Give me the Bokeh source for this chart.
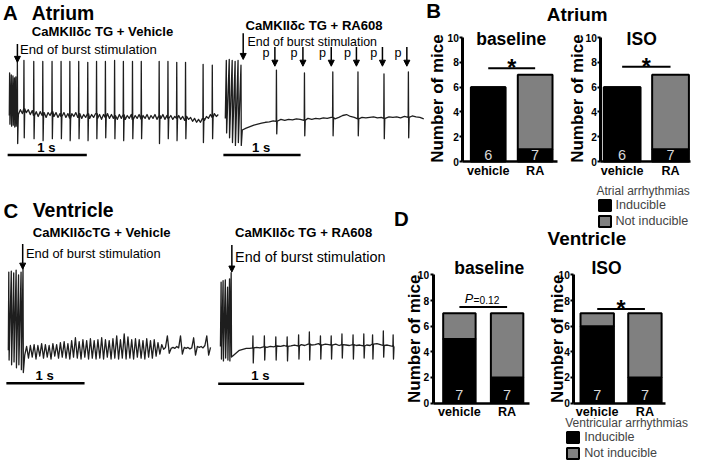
import math
from bokeh.plotting import figure
from bokeh.models import (Range1d, LinearAxis, FixedTicker, Label, Arrow, NormalHead,
                          Legend, LegendItem)
from bokeh.embed import file_html
from bokeh.resources import INLINE

FONT = "Liberation Sans"
REF_W, REF_H = 709, 476
FIG_W, FIG_H = 693, 460
FS = 0.97

# ---------------- bar chart data ----------------
groups = ["vehicle", "RA"]
atrial_baseline_inducible = [6, 1]
atrial_baseline_not = [0, 6]
atrial_iso_inducible = [6, 1]
atrial_iso_not = [0, 6]
vent_baseline_inducible = [5, 2]
vent_baseline_not = [2, 5]
vent_iso_inducible = [6, 2]
vent_iso_not = [1, 5]
y_ticks = [0, 2, 4, 6, 8, 10]

# ---------------- ECG traces (time in s, amplitude in mV) ----------------
# A: atrium, vehicle
av_burst_t = [0.004, 0.025, 0.046, 0.065, 0.083]
av_burst_up = [0.88, 0.84, 0.82, 0.78, 0.80]
av_burst_dn = [-0.18, -0.22, -0.20, -0.24, -0.22]
av_spike_t = [0.102, 0.185, 0.309, 0.423, 0.540, 0.654, 0.765, 0.877, 0.991, 1.102, 1.214,
              1.330, 1.441, 1.556, 1.667, 1.893, 2.004, 2.115, 2.226, 2.448, 2.564]
av_spike_up = [1.12, 1.14, 1.12, 1.12, 1.12, 1.12, 1.12, 1.12, 1.10, 1.12, 1.12,
               1.14, 1.12, 1.12, 1.12, 1.12, 1.12, 1.10, 1.10, 1.06, 1.04]
av_spike_dn = [-0.58, -0.46, -0.48, -0.52, -0.48, -0.48, -0.52, -0.48, -0.52, -0.48, -0.46,
               -0.48, -0.52, -0.48, -0.48, -0.58, -0.48, -0.52, -0.48, -0.56, -0.48]
av_base_t0, av_base_dt = 0.09, 0.025
av_base_v = [-0.12, 0.02, 0.12, 0.04, 0.14, 0.06, 0.12, 0.02, 0.10, 0.00,
             0.08, -0.02, 0.08, 0.00, 0.06, -0.04, 0.06, 0.00, 0.08, -0.02,
             0.06, -0.04, 0.04, -0.02, 0.06, -0.04, 0.04, -0.06, 0.04, -0.02,
             0.06, -0.04, 0.04, -0.06, 0.02, -0.04, 0.04, -0.06, 0.02, -0.04,
             0.04, -0.06, 0.02, -0.08, 0.02, -0.04, 0.04, -0.06, 0.02, -0.06,
             0.00, -0.08, 0.02, -0.06, 0.02, -0.08, 0.00, -0.06, 0.02, -0.08,
             0.00, -0.06, 0.02, -0.08, 0.00, -0.06, 0.02, -0.08, 0.00, -0.06,
             0.02, -0.08, 0.00, -0.06, 0.02, -0.08, 0.00, -0.06, 0.00, -0.08,
             -0.02, -0.06, 0.00, -0.08, -0.02, -0.10, -0.02, -0.08, -0.04, -0.12,
             -0.06, -0.14, -0.08, -0.14, -0.06, -0.10, -0.02, -0.06, 0.02, -0.04,
             0.04, -0.02, 0.02]

# A: atrium, RA608
ar_burst_t = [0.013, 0.051, 0.089, 0.127, 0.165, 0.203]
ar_burst_up = [1.20, 1.22, 1.20, 1.18, 1.20, 1.10]
ar_burst_dn = [-0.30, -0.40, -0.50, -0.56, -0.50, -0.56]
ar_spike_t = [0.662, 1.025, 1.392, 1.718, 2.055, 2.371]
ar_spike_up = [1.00, 0.94, 0.96, 0.96, 0.92, 0.96]
ar_spike_dn = [-0.32, -0.36, -0.36, -0.36, -0.42, -0.40]
ar_base_t0, ar_base_dt = 0.22, 0.05
ar_base_v = [-0.24, -0.20, -0.17, -0.14, -0.12, -0.10, -0.08, -0.07, -0.05, -0.06,
             -0.02, -0.04, -0.02, -0.03, -0.01, -0.02, -0.04, 0.00, -0.02, 0.00,
             -0.01, 0.01, 0.00, 0.02, -0.01, 0.02, 0.06, 0.08, 0.04, 0.02,
             -0.01, 0.02, 0.01, 0.02, 0.03, 0.01, 0.02, 0.00, 0.03, 0.02,
             0.03, 0.01, 0.04, 0.02, 0.05, 0.03, 0.02, -0.01]

# C: ventricle, vehicle
cv_burst_t = [0.006, 0.038, 0.069, 0.100, 0.131, 0.163, 0.188]
cv_burst_up = [1.62, 1.64, 1.60, 1.66, 1.56, 1.62, 1.70]
cv_burst_dn = [-0.20, -0.30, -0.24, -0.36, -0.30, -0.40, -0.46]
cv_base_t0, cv_base_dt = 0.21, 0.024
cv_base_v = [-0.10, 0.08, -0.16, 0.10, -0.14, 0.12, -0.18, 0.10, -0.12, 0.14,
             -0.16, 0.12, -0.14, 0.10, -0.18, 0.14, -0.12, 0.12, -0.16, 0.16,
             -0.14, 0.18, -0.16, 0.14, -0.18, 0.20, -0.14, 0.26, -0.16, 0.18,
             -0.18, 0.22, -0.14, 0.20, -0.18, 0.24, -0.16, 0.20, -0.18, 0.22,
             -0.16, 0.26, -0.18, 0.22, -0.14, 0.20, -0.18, 0.24, -0.16, 0.30,
             -0.18, 0.22, -0.16, 0.34, -0.18, 0.28, -0.16, 0.22, -0.18, 0.24,
             -0.14, 0.22, -0.16, 0.20, -0.18, 0.24, -0.14, 0.20, -0.16, 0.22,
             -0.12, 0.16, -0.08, 0.12, 0.02, 0.06, 0.30, -0.06, 0.04, 0.06,
             0.04, 0.08, 0.05, 0.30, -0.08, 0.06, 0.04, 0.06, 0.03, 0.05,
             0.26, -0.10, 0.08, 0.06, 0.08, 0.05, 0.10, 0.30, -0.10, 0.06]

# C: ventricle, RA608
cr_burst_t = [0.008, 0.031, 0.057, 0.083, 0.106, 0.125]
cr_burst_up = [1.33, 1.36, 1.38, 1.23, 1.40, 1.53]
cr_burst_dn = [-0.26, -0.30, -0.24, -0.28, -0.30, -0.22]
cr_spike_t = [0.378, 0.511, 0.644, 0.776, 0.909, 1.034, 1.163, 1.288, 1.413, 1.542,
              1.667, 1.769, 1.894, 2.008]
cr_spike_up = [0.22, 0.22, 0.20, 0.20, 0.24, 0.30, 0.22, 0.22, 0.26, 0.24,
               0.26, 0.24, 0.32, 0.24]
cr_spike_dn = [-0.34, -0.28, -0.28, -0.30, -0.26, -0.28, -0.26, -0.26, -0.24, -0.26,
               -0.24, -0.26, -0.22, -0.26]
cr_base_t0, cr_base_dt = 0.14, 0.04
cr_base_v = [-0.20, -0.14, -0.08, -0.06, -0.04, -0.04, -0.03, -0.02, -0.03, -0.01,
             -0.02, 0.00, -0.01, 0.01, 0.00, 0.02, 0.00, 0.01, 0.03, 0.01,
             0.04, 0.02, 0.05, 0.03, 0.04, 0.06, 0.03, 0.05, 0.04, 0.03,
             0.05, 0.02, 0.04, 0.03, 0.02, 0.04, 0.02, 0.03, 0.01, 0.03,
             0.02, 0.05, 0.06, 0.04, 0.02, 0.03, 0.01, 0.00]


def build_trace(burst_t, burst_up, burst_dn, base_t0, base_dt, base_v,
                spk_t=(), spk_up=(), spk_dn=()):
    base = [(base_t0 + i * base_dt, v) for i, v in enumerate(base_v)]
    pts = [(0.0, 0.0)]
    for t, u, d in zip(burst_t, burst_up, burst_dn):
        pts += [(t, u), (t + 0.004, d)]
    extra = []
    for t, u, d in zip(spk_t, spk_up, spk_dn):
        i = min(len(base_v) - 1, max(0, round((t - base_t0) / base_dt)))
        b = base_v[i]
        base = [(bt, bv) for bt, bv in base if not (t - 0.004 < bt < t + 0.011)]
        extra += [(t - 0.003, b), (t, u), (t + 0.004, d), (t + 0.010, b)]
    allp = sorted(pts + base + extra)
    return [a for a, _ in allp], [b for _, b in allp]


# ---------------- canvas ----------------
p = figure(width=FIG_W, height=FIG_H, x_range=Range1d(0, REF_W), y_range=Range1d(REF_H, 0),
           output_backend="svg", toolbar_location=None, x_axis_type=None, y_axis_type=None,
           min_border=0, outline_line_color=None, background_fill_color="white",
           border_fill_color="white")


def xrange_px(x0, ppu):
    return Range1d(-x0 / ppu, (REF_W - x0) / ppu)


def yrange_px(y0, ppu):
    return Range1d((y0 - REF_H) / ppu, y0 / ppu)


xr = {
    "xAv": xrange_px(9, 81), "xAr": xrange_px(230, 79),
    "xCv": xrange_px(8, 80), "xCr": xrange_px(225, 88),
    "xB1": xrange_px(499, 48), "xB2": xrange_px(636, 49.5),
    "xD1": xrange_px(469.5, 48.8), "xD2": xrange_px(610.5, 48.8),
}
yr = {
    "yAv": yrange_px(119, 50), "yAr": yrange_px(122, 50),
    "yCv": yrange_px(362, 50), "yCr": yrange_px(358, 50),
    "yB": yrange_px(166.7, 12.84), "yD": yrange_px(416.5, 13.25),
}
p.extra_x_ranges = xr
p.extra_y_ranges = yr


def lab(text, x, y, size, bold=False, align="left", baseline="middle", angle=0.0,
        color="black", italic=False, xname=None, yname=None):
    style = "bold" if bold else "normal"
    if italic:
        style = "bold italic" if bold else "italic"
    kw = dict(x=x, y=y, text=text, text_font=FONT, text_font_size=f"{size * FS:.1f}px",
              text_font_style=style, text_align=align, text_baseline=baseline,
              angle=angle, text_color=color)
    if xname:
        kw["x_range_name"] = xname
    if yname:
        kw["y_range_name"] = yname
    p.add_layout(Label(**kw))


def arrow(x, y0, y1, xname=None):
    a = Arrow(end=NormalHead(size=6, fill_color="black", line_color="black", line_width=1),
              x_start=x, y_start=y0, x_end=x, y_end=y1, line_width=1.5, line_color="black")
    if xname:
        a.x_range_name = xname
    p.add_layout(a)


# ---------------- traces ----------------
trace_specs = [
    ("xAv", "yAv", build_trace(av_burst_t, av_burst_up, av_burst_dn, av_base_t0, av_base_dt,
                               av_base_v, av_spike_t, av_spike_up, av_spike_dn)),
    ("xAr", "yAr", build_trace(ar_burst_t, ar_burst_up, ar_burst_dn, ar_base_t0, ar_base_dt,
                               ar_base_v, ar_spike_t, ar_spike_up, ar_spike_dn)),
    ("xCv", "yCv", build_trace(cv_burst_t, cv_burst_up, cv_burst_dn, cv_base_t0, cv_base_dt,
                               cv_base_v)),
    ("xCr", "yCr", build_trace(cr_burst_t, cr_burst_up, cr_burst_dn, cr_base_t0, cr_base_dt,
                               cr_base_v, cr_spike_t, cr_spike_up, cr_spike_dn)),
]
for xn, yn, (tx, ty) in trace_specs:
    p.line(tx, ty, x_range_name=xn, y_range_name=yn, line_color="#1e1e1e",
           line_width=1.3, line_join="round")

# scale bars (1 s)
for xn, yn, t0, v, label_y in [("xAv", "yAv", -0.021, -0.82, 152),
                               ("xAr", "yAr", -0.025, -0.76, 152),
                               ("xCv", "yCv", -0.025, -0.68, 388),
                               ("xCr", "yCr", -0.026, -0.774, 388)]:
    p.line([t0, t0 + 1.0], [v, v], x_range_name=xn, y_range_name=yn,
           line_color="black", line_width=2.5)
    lab("1 s", t0 + 0.49, label_y, 13.5, bold=True, align="center", xname=xn)

# ---------------- panel A / C texts ----------------
lab("A", 10, 12.5, 21, bold=True, align="center")
lab("Atrium", 32, 12.5, 20, bold=True)
lab("CaMKIIδc TG + Vehicle", 32, 32.5, 13.5, bold=True)
lab("End of burst stimulation", 20, 51, 13.5)
arrow(17.3, 45, 64)
lab("CaMKIIδc TG + RA608", 250.7, 26, 13.5, bold=True)
lab("End of burst stimulation", 252.7, 43, 12.8)
arrow(248.3, 34, 61)
for t in ar_spike_t:
    arrow(t - 0.02, 48, 68, xname="xAr")
    lab("p", t - 0.134, 54, 13, align="center", xname="xAr")

lab("C", 10.5, 217.5, 21, bold=True, align="center")
lab("Ventricle", 33, 217, 20, bold=True)
lab("CaMKIIδcTG + Vehicle", 33, 240, 13.5, bold=True)
lab("End of burst stimulation", 26, 262, 13.3)
arrow(22.7, 252, 278)
lab("CaMKIIδc TG + RA608", 240, 240, 13.5, bold=True)
lab("End of burst stimulation", 240, 265, 14.8)
arrow(236.7, 253, 281)

lab("B", 443, 11, 21, bold=True, align="center")
lab("D", 410, 226, 21, bold=True, align="center")
lab("Atrium", 590, 15, 19.5, bold=True, align="center")
lab("Ventricle", 600, 246, 19.5, bold=True, align="center")

# ---------------- bar charts ----------------
charts = [
    # xname, yname, inducible, not, axis_x, right, width, title, title_xy, ylab_xy, n_y, sig_y, sig
    ("xB1", "yB", atrial_baseline_inducible, atrial_baseline_not, -0.54, 1.48, 0.74,
     "baseline", (522.5, 40), (447, 101.5), 0.52, 7.53, "*"),
    ("xB2", "yB", atrial_iso_inducible, atrial_iso_not, -0.44, 1.42, 0.76,
     "ISO", (656, 39.5), (590, 101.5), 0.52, 7.65, "*"),
    ("xD1", "yD", vent_baseline_inducible, vent_baseline_not, -0.55, 1.47, 0.68,
     "baseline", (500, 277), (423.5, 350), 0.64, 7.5, "P"),
    ("xD2", "yD", vent_iso_inducible, vent_iso_not, -0.49, 1.44, 0.70,
     "ISO", (620, 277), (569.5, 350), 0.64, 7.35, "*"),
]
legend_renderers = {}
for (xn, yn, ind, nott, ax_x, right, w, title, txy, lxy, n_y, sig_y, sig) in charts:
    xs = list(range(len(groups)))
    tops = [a + b for a, b in zip(ind, nott)]
    r_black = p.vbar(x=xs, bottom=0, top=ind, width=w, fill_color="black",
                     line_color="black", line_width=2, x_range_name=xn, y_range_name=yn)
    r_gray = p.vbar(x=xs, bottom=ind, top=tops, width=w, fill_color="#808080",
                    line_color="black", line_width=2, x_range_name=xn, y_range_name=yn)
    legend_renderers.setdefault(yn, (r_black, r_gray))

    yax = LinearAxis(x_range_name=xn, y_range_name=yn, fixed_location=ax_x, bounds=(0, 10),
                     ticker=FixedTicker(ticks=y_ticks, minor_ticks=[]),
                     axis_line_width=3, axis_line_color="black",
                     major_tick_line_width=2, major_tick_line_color="black",
                     major_tick_out=3, major_tick_in=0,
                     minor_tick_line_color=None, major_label_standoff=1,
                     major_label_text_font=FONT, major_label_text_font_style="bold",
                     major_label_text_color="black",
                     major_label_text_font_size=f"{10.5 * FS:.1f}px")
    p.add_layout(yax, "left")
    xax = LinearAxis(x_range_name=xn, y_range_name=yn, fixed_location=0, bounds=(ax_x, right),
                     ticker=FixedTicker(ticks=xs, minor_ticks=[]),
                     major_label_overrides={i: g for i, g in enumerate(groups)},
                     axis_line_width=2.5, axis_line_color="black",
                     major_tick_line_color=None, minor_tick_line_color=None,
                     major_tick_out=0, major_tick_in=0, major_label_standoff=2,
                     major_label_text_font=FONT, major_label_text_font_style="bold",
                     major_label_text_color="black",
                     major_label_text_font_size=f"{13 * FS:.1f}px")
    p.add_layout(xax, "below")

    lab(title, txy[0], txy[1], 18, bold=True, align="center")
    lab("Number of mice", lxy[0], lxy[1], 17.5, bold=True, align="center",
        angle=math.pi / 2)
    for i, n in enumerate(tops):
        lab(str(n), i, n_y, 15, align="center", color="#d8d8d8", xname=xn, yname=yn)
    p.line([0, 1], [sig_y, sig_y], x_range_name=xn, y_range_name=yn,
           line_color="black", line_width=2)
    if sig == "*":
        lab("*", 0.5, sig_y, 24, bold=True, align="center", xname=xn, yname=yn)

lab("P", 475, 309, 13, italic=True)
lab("=0.12", 484, 310, 10.5)


def make_legend(title, rends, loc):
    leg = Legend(items=[LegendItem(label="Inducible", renderers=[rends[0]]),
                        LegendItem(label="Not inducible", renderers=[rends[1]])],
                 title=title, location=loc, orientation="vertical",
                 background_fill_alpha=0, border_line_color=None, padding=0, margin=0,
                 spacing=2, glyph_width=15, glyph_height=14, label_height=14,
                 label_standoff=4, title_standoff=0,
                 label_text_font=FONT, label_text_font_size=f"{13 * FS:.1f}px",
                 title_text_font=FONT, title_text_font_size=f"{12.4 * FS:.1f}px",
                 title_text_font_style="normal")
    p.add_layout(leg)


make_legend("Atrial arrhythmias", legend_renderers["yB"], (596.5, 232))
make_legend("Ventricular arrhythmias", legend_renderers["yD"], (565.2, 0))

open("out.html", "w").write(file_html(p, INLINE))
